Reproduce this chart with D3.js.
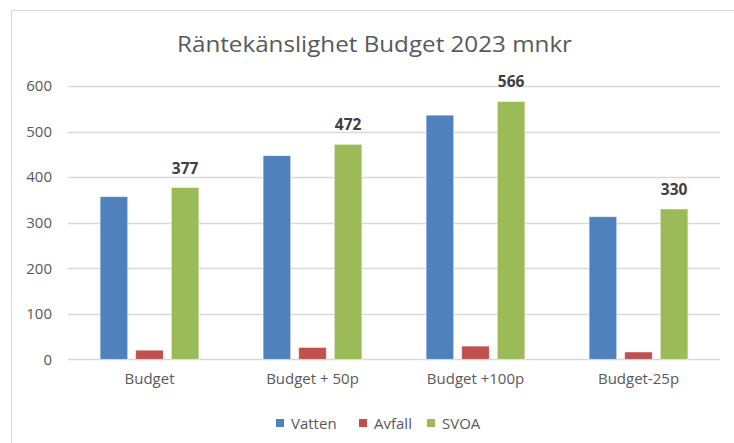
<!DOCTYPE html>
<html>
<head>
<meta charset="utf-8">
<script src="https://cdn.jsdelivr.net/npm/d3@7"></script>
<style>
  body { margin: 0; background: #fff; }
  svg { display: block; font-family: 'Open Sans', sans-serif; }
</style>
</head>
<body>
<div class="container"></div>
<script>
const w = 734
const h = 443

const categories = ['Budget', 'Budget + 50p', 'Budget +100p', 'Budget-25p']
const seriesNames = ['Vatten', 'Avfall', 'SVOA']
const vatten = [357, 447, 536, 313]
const avfall = [20, 26, 29, 16]
const svoa = [377, 472, 566, 330]
const yTicks = [0, 100, 200, 300, 400, 500, 600]
const colors = ['#4f81bd', '#c0504d', '#9bbb59']

const seriesValues = [vatten, avfall, svoa]

const svg = d3.select('.container')
    .append('svg')
    .attr('width', w)
    .attr('height', h)

// chart border
svg.append('rect')
    .attr('x', 11.5)
    .attr('y', 10.5)
    .attr('width', w + 10)
    .attr('height', h + 10)
    .attr('fill', '#fff')
    .attr('stroke', '#d9d9d9')

const title = svg.append('text')
    .text('Räntekänslighet Budget 2023 mnkr')
    .attr('x', 374.5)
    .attr('y', 52)
    .attr('text-anchor', 'middle')
    .attr('font-size', 22)
    .attr('fill', '#595959')
    .attr('textLength', 395)
    .attr('lengthAdjust', 'spacingAndGlyphs')

const x0 = d3.scaleBand()
    .domain(categories)
    .range([68, 720])
    .paddingInner(0.394)
    .paddingOuter(0.197)

const x1 = d3.scaleBand()
    .domain(seriesNames)
    .range([0, x0.bandwidth()])
    .paddingInner(0.225)

const y = d3.scaleLinear()
    .domain([0, 600])
    .range([359.3, 86])

// gridlines
svg.append('g')
    .selectAll('line')
    .data(yTicks)
    .enter()
    .append('line')
    .attr('x1', 68)
    .attr('x2', 720)
    .attr('y1', d => Math.round(y(d)) + 0.5)
    .attr('y2', d => Math.round(y(d)) + 0.5)
    .attr('stroke', '#d9d9d9')
    .attr('stroke-width', 1.3)

// y axis labels
const yAxis = d3.axisLeft(y).tickValues(yTicks).tickSize(0).tickPadding(0)
svg.append('g')
    .attr('transform', 'translate(52, 0)')
    .call(yAxis)
    .call(g => g.select('.domain').remove())
    .call(g => g.selectAll('text')
        .attr('font-size', 15)
        .attr('font-family', "'Open Sans', sans-serif")
        .attr('fill', '#595959'))

// x axis labels
const xAxis = d3.axisBottom(x0).tickSize(0).tickPadding(0)
svg.append('g')
    .attr('transform', 'translate(0, 373)')
    .call(xAxis)
    .call(g => g.select('.domain').remove())
    .call(g => g.selectAll('text')
        .attr('font-size', 15)
        .attr('font-family', "'Open Sans', sans-serif")
        .attr('fill', '#595959'))

// bars
const groups = svg.append('g')
    .selectAll('g')
    .data(categories)
    .enter()
    .append('g')
    .attr('transform', d => 'translate(' + x0(d) + ',0)')

groups.selectAll('rect')
    .data((d, i) => seriesNames.map((s, j) => ({ s: s, v: seriesValues[j][i], c: colors[j] })))
    .enter()
    .append('rect')
    .attr('x', d => x1(d.s))
    .attr('y', d => y(d.v))
    .attr('width', x1.bandwidth())
    .attr('height', d => y(0) - y(d.v))
    .attr('fill', d => d.c)
    .attr('stroke', 'rgba(255,255,255,0.6)')
    .attr('stroke-width', 0.8)

// data labels on SVOA
groups.append('text')
    .text((d, i) => svoa[i])
    .attr('x', x1('SVOA') + x1.bandwidth() / 2)
    .attr('y', (d, i) => y(svoa[i]) - 14)
    .attr('text-anchor', 'middle')
    .attr('font-size', 15.5)
    .attr('font-weight', 'bold')
    .attr('fill', '#404040')

// legend
const legendX = [276, 359, 427]
const legend = svg.append('g')
    .selectAll('g')
    .data(seriesNames)
    .enter()
    .append('g')
    .attr('transform', (d, i) => 'translate(' + legendX[i] + ', 419)')

legend.append('rect')
    .attr('width', 8)
    .attr('height', 8)
    .attr('fill', (d, i) => colors[i])

legend.append('text')
    .text(d => d)
    .attr('x', 15)
    .attr('y', 9.5)
    .attr('font-size', 15)
    .attr('fill', '#595959')
</script>
</body>
</html>
